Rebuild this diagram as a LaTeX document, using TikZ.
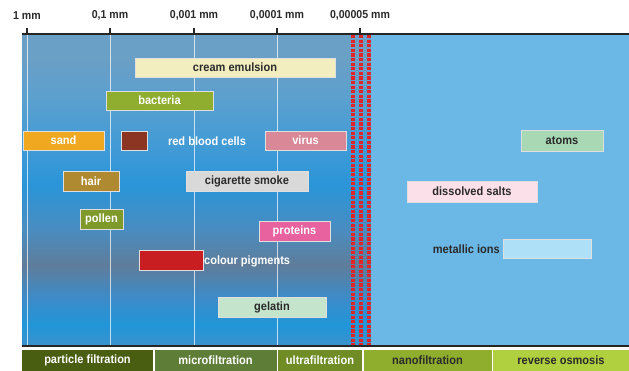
\documentclass[tikz,border=0pt]{standalone}
\usepackage{fontspec}
\setmainfont{Liberation Sans}
\newfontfamily\labfont[FakeStretch=0.92]{Liberation Sans}
\definecolor{sA}{HTML}{3A92CC}
\definecolor{sB}{HTML}{2196D8}
\definecolor{sC}{HTML}{3E8BC8}
\definecolor{sD}{HTML}{5F7D9A}
\definecolor{sE}{HTML}{4A8CC0}
\definecolor{sF}{HTML}{2A95D8}
\definecolor{sG}{HTML}{3F9AD6}
\definecolor{sH}{HTML}{5AA0CF}
\definecolor{sI}{HTML}{6A9FC6}
\definecolor{rightblue}{HTML}{6BB7E5}
\definecolor{dashred}{HTML}{E02428}
\definecolor{darktext}{HTML}{2A2A2A}
\definecolor{cCream}{HTML}{F2EEC0}
\definecolor{cBact}{HTML}{8FAD2E}
\definecolor{cSand}{HTML}{F0A820}
\definecolor{cRbc}{HTML}{8B3522}
\definecolor{cVirus}{HTML}{D98898}
\definecolor{cHair}{HTML}{B08A30}
\definecolor{cSmoke}{HTML}{D9D9D9}
\definecolor{cPollen}{HTML}{7F9A2A}
\definecolor{cProt}{HTML}{E862A0}
\definecolor{cPigm}{HTML}{C81E22}
\definecolor{cGel}{HTML}{C4E4CC}
\definecolor{cAtom}{HTML}{A8D8B4}
\definecolor{cSalt}{HTML}{FBE0EA}
\definecolor{cIon}{HTML}{AEE0F8}
\definecolor{fA}{HTML}{4A5E12}
\definecolor{fB}{HTML}{5E7E38}
\definecolor{fC}{HTML}{6F8C25}
\definecolor{fD}{HTML}{8FAE2E}
\definecolor{fE}{HTML}{B0D040}
\pgfdeclareverticalshading{bgshade}{100bp}{color(0bp)=(sA); color(25bp)=(sA); color(28.2bp)=(sB); color(32.8bp)=(sC); color(37.9bp)=(sD); color(43.5bp)=(sE); color(50.8bp)=(sF); color(56.4bp)=(sG); color(64.5bp)=(sH); color(71bp)=(sI); color(75bp)=(sI); color(100bp)=(sI)}
\tikzset{
  txtfont/.style={font=\labfont\fontsize{12}{14}\selectfont\bfseries},
  box/.style={draw=white!75!gray, line width=0.6pt, inner sep=0pt, txtfont},
  wtext/.style={text=white},
  dtext/.style={text=darktext},
  lbl/.style={inner sep=0pt, txtfont},
  scalelbl/.style={inner sep=0pt, text=darktext, font=\labfont\fontsize{11.5}{13}\selectfont\bfseries},
  filt/.style={inner sep=0pt, minimum height=21, txtfont},
  gridline/.style={white, opacity=0.7, line width=0.9pt},
  redash/.style={dashred, line width=3.2pt, dash pattern=on 3.2pt off 1.4pt},
  axisline/.style={black!85, line width=2pt},
  tickline/.style={black!85, line width=1.4pt}
}
\begin{document}
\begin{tikzpicture}[x=1pt,y=-1pt]
\useasboundingbox (0,0) rectangle (629,370);
% panels
\fill[shading=bgshade] (22,35) rectangle (371,345);
\fill[rightblue] (371,35) rectangle (629,345);
% grid lines
\foreach \x in {27,110,194,277} \draw[gridline] (\x,35) -- (\x,345);
% red dashed lines
\foreach \x in {353,361,369} \draw[redash] (\x,35) -- (\x,345);
% axis lines
\draw[axisline] (22,34) -- (629,34);
\draw[axisline] (22,345.5) -- (629,345.5);
% ticks and scale labels
\foreach \x/\n/\t in {27/t1/1 mm,110/t2/{0,1 mm},194/t3/{0,001 mm},277/t4/{0,0001 mm},360/t5/{0,00005 mm}}{
  \draw[tickline] (\x,34) -- (\x,27.5);
  \node[scalelbl] (\n) at (\x,15.5) {\t};
}
% boxes
\node[box,dtext,fill=cCream,minimum width=200,minimum height=19] (cream) at (235,67.5) {cream emulsion};
\node[box,wtext,fill=cBact,minimum width=107,minimum height=19] (bact) at (159.5,100.5) {bacteria};
\node[box,wtext,fill=cSand,minimum width=81,minimum height=19] (sand) at (63.5,140.5) {sand};
\node[box,fill=cRbc,minimum width=26,minimum height=19] (rbc) at (134,140.5) {};
\node[lbl,text=white] (rbcl) at (207,141.5) {red blood cells};
\node[box,wtext,fill=cVirus,minimum width=81,minimum height=19] (virus) at (305.5,140.5) {virus};
\node[box,wtext,fill=cHair,minimum width=56,minimum height=20] (hair) at (91,181) {hair};
\node[box,dtext,fill=cSmoke,minimum width=122,minimum height=20] (smoke) at (247,181) {cigarette smoke};
\node[box,wtext,fill=cPollen,minimum width=43,minimum height=20] (pollen) at (101.5,219) {pollen};
\node[box,wtext,fill=cProt,minimum width=71,minimum height=20] (prot) at (294.5,231) {proteins};
\node[box,fill=cPigm,minimum width=64,minimum height=20] (pigm) at (171,260) {};
\node[lbl,text=white,anchor=west] (pigml) at (204,261.5) {colour pigments};
\node[box,dtext,fill=cGel,minimum width=108,minimum height=20] (gel) at (272,307) {gelatin};
\node[box,dtext,fill=cAtom,minimum width=82,minimum height=21] (atom) at (562,140.5) {atoms};
\node[box,dtext,fill=cSalt,minimum width=130,minimum height=21] (salt) at (472,191.5) {dissolved salts};
\node[box,fill=cIon,minimum width=88,minimum height=19] (ion) at (547,248.5) {};
\node[lbl,text=darktext,anchor=east] (ionl) at (500,249.5) {metallic ions};
% filtration bar
\node[filt,fill=fA,text=white,minimum width=131] (pf) at (87.5,360.5) {particle filtration};
\node[filt,fill=fB,text=white,minimum width=122] (mf) at (215.5,360.5) {microfiltration};
\node[filt,fill=fC,text=white,minimum width=84] (uf) at (320,360.5) {ultrafiltration};
\node[filt,fill=fD,text=darktext,minimum width=128] (nf) at (427.5,360.5) {nanofiltration};
\node[filt,fill=fE,text=darktext,minimum width=136] (ro) at (561,360.5) {reverse osmosis};
\end{tikzpicture}
\end{document}
